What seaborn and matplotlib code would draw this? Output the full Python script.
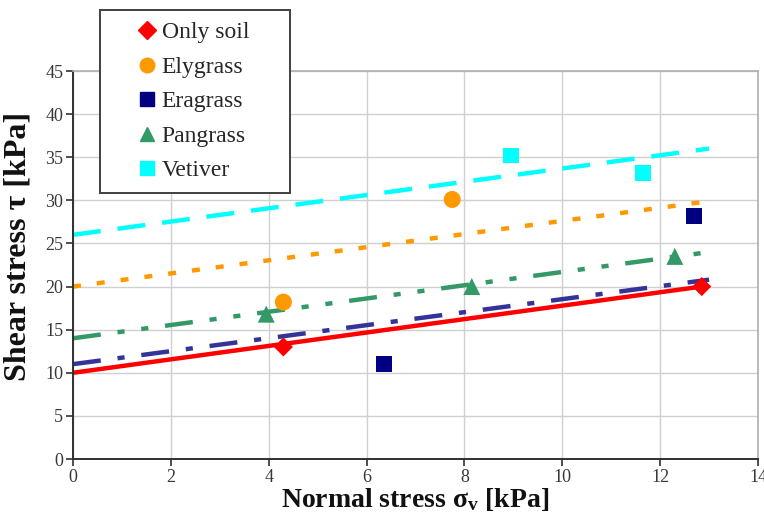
import matplotlib
matplotlib.use("Agg")
import matplotlib.pyplot as plt
import seaborn as sns
import pandas as pd
from matplotlib.lines import Line2D

sns.set_theme(style="white")
plt.rcParams['font.family'] = ['Liberation Serif', 'DejaVu Serif']
plt.rcParams['mathtext.fontset'] = 'custom'
plt.rcParams['mathtext.rm'] = 'Liberation Serif:bold'
plt.rcParams['mathtext.it'] = 'Liberation Serif:bold'

# ---- data ----
series = ["Only soil", "Elygrass", "Eragrass", "Pangrass", "Vetiver"]
soil_x = [4.3, 12.85]
soil_y = [13.0, 20.0]
ely_x = [4.3, 7.75]
ely_y = [18.2, 30.1]
era_x = [6.35, 12.7]
era_y = [11.0, 28.2]
pan_x = [3.95, 8.15, 12.3]
pan_y = [16.8, 20.0, 23.5]
vet_x = [8.95, 11.65]
vet_y = [35.2, 33.2]

# trend lines (start/end values)
soil_line_x = [0, 12.85]
soil_line_y = [10.0, 20.0]
ely_line_x = [0, 13.0]
ely_line_y = [20.0, 29.9]
era_line_x = [0, 13.0]
era_line_y = [11.0, 20.8]
pan_line_x = [0, 13.0]
pan_line_y = [14.0, 24.0]
vet_line_x = [0, 13.0]
vet_line_y = [26.0, 36.0]

x_ticks = [0, 2, 4, 6, 8, 10, 12, 14]
y_ticks = [0, 5, 10, 15, 20, 25, 30, 35, 40, 45]

# ---- styles ----
marker_colors = {"Only soil": "#FF0000", "Elygrass": "#FF9900", "Eragrass": "#000080",
                 "Pangrass": "#339966", "Vetiver": "#00FFFF"}
line_colors = {"Only soil": "#FF0000", "Elygrass": "#FF9900", "Eragrass": "#333399",
               "Pangrass": "#339966", "Vetiver": "#00FFFF"}
markers = {"Only soil": "D", "Elygrass": "o", "Eragrass": "s", "Pangrass": "^", "Vetiver": "s"}
msizes = {"Only soil": 95, "Elygrass": 150, "Eragrass": 130, "Pangrass": 150, "Vetiver": 130}
dashes = {"Only soil": None, "Elygrass": (0, (1.8, 3.6)),
          "Eragrass": (0, (6.3, 3.8, 1.6, 3.8)),
          "Pangrass": (0, (6.3, 3.8, 1.6, 3.8, 1.6, 3.8)),
          "Vetiver": (0, (6.3, 3.8))}

pts = pd.DataFrame({
    "x": soil_x + ely_x + era_x + pan_x + vet_x,
    "y": soil_y + ely_y + era_y + pan_y + vet_y,
    "s": ["Only soil"] * len(soil_x) + ["Elygrass"] * len(ely_x) + ["Eragrass"] * len(era_x)
         + ["Pangrass"] * len(pan_x) + ["Vetiver"] * len(vet_x),
})
lines = {
    "Only soil": (soil_line_x, soil_line_y),
    "Elygrass": (ely_line_x, ely_line_y),
    "Eragrass": (era_line_x, era_line_y),
    "Pangrass": (pan_line_x, pan_line_y),
    "Vetiver": (vet_line_x, vet_line_y),
}

fig = plt.figure(figsize=(7.64, 5.18), dpi=100)
ax = fig.add_axes([73 / 764, 1 - 459 / 518, (758 - 73) / 764, (459 - 71) / 518])

for name in series:
    lx, ly = lines[name]
    sns.lineplot(x=lx, y=ly, ax=ax, color=line_colors[name], lw=3.2, legend=False)
    ln = ax.lines[-1]
    if dashes[name] is not None:
        ln.set_linestyle(dashes[name])
    ln.set_dash_capstyle("butt")

for name in series:
    d = pts[pts["s"] == name]
    sns.scatterplot(data=d, x="x", y="y", ax=ax, color=marker_colors[name],
                    marker=markers[name], s=msizes[name], edgecolor="none",
                    legend=False, zorder=5)

ax.set_xlim(0, 14)
ax.set_ylim(0, 45)
ax.set_xticks(x_ticks)
ax.set_yticks(y_ticks)
ax.grid(True, color="#D0D0D0", lw=1.0)
ax.set_axisbelow(True)
for sp in ["top", "right"]:
    ax.spines[sp].set_color("#B0B0B0")
    ax.spines[sp].set_linewidth(1.2)
for sp in ["left", "bottom"]:
    ax.spines[sp].set_color("#303030")
    ax.spines[sp].set_linewidth(1.4)
ax.tick_params(axis="both", which="major", direction="out", length=5, width=1.2,
               color="#303030", labelsize=13, labelcolor="#383838", pad=2,
               bottom=True, left=True)

ax.set_xlabel(r"Normal stress σ$_\mathregular{v}$ [kPa]", fontsize=20, fontweight="bold",
              color="#111111", labelpad=0)
ax.set_ylabel("Shear stress τ [kPa]", fontsize=23, fontweight="bold",
              color="#111111")
ax.yaxis.set_label_coords((33 - 73) / 685, (459 - 246) / 388)

handles = [Line2D([], [], linestyle="none", marker=markers[n], color=marker_colors[n],
                  markersize=10.5 if markers[n] != "D" else 9) for n in series]
fs = 17
fs_px = fs * 100 / 72
leg = ax.legend(handles, series, loc="upper left",
                bbox_to_anchor=((100 - 73) / 685, (459 - 10) / 388, 190 / 685, 0.0),
                mode="expand",
                frameon=True, fancybox=False, fontsize=fs,
                handlelength=70 / fs_px, handletextpad=-20 / fs_px,
                labelspacing=0.55, borderpad=0.5, borderaxespad=0)
leg.get_frame().set_edgecolor("#404040")
leg.get_frame().set_linewidth(1.4)
leg.get_frame().set_alpha(1)
leg.set_zorder(10)

fig.savefig("out.png", dpi=100)
